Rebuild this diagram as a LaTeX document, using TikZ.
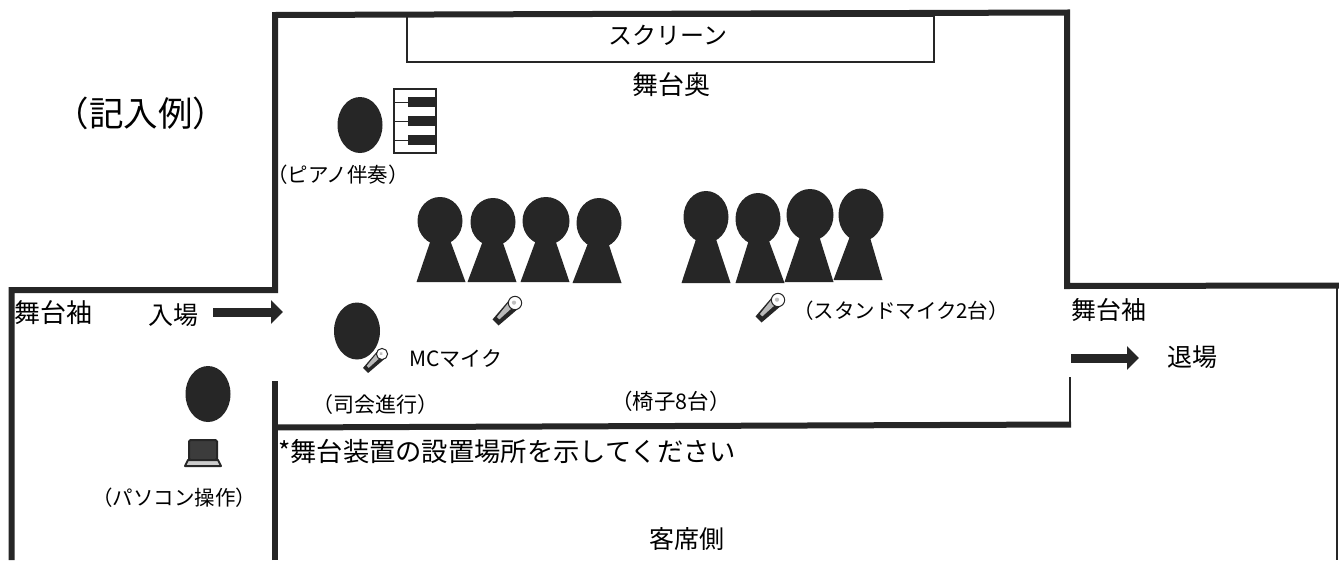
\documentclass[tikz,border=0pt]{standalone}
\usepackage{fontspec}
\setmainfont{Noto Sans CJK JP}
\usetikzlibrary{arrows.meta,shapes.geometric}
\definecolor{ink}{HTML}{262626}
\tikzset{
  x=1pt,y=-1pt,
  wall/.style={draw=ink,line width=6pt,line cap=butt,line join=miter},
  thinwall/.style={draw=ink,line width=2.5pt},
  headshape/.style={fill=ink,draw=none,ellipse,inner sep=0pt},
  lab/.style={font=\fontsize{#1}{#1}\selectfont,text=black,inner sep=0pt},
  arr/.style={draw=ink,line width=9pt,-{Triangle[length=12pt,width=23pt]}},
}
\newcommand{\mymic}[2]{%
  \begin{scope}[shift={#1},rotate=-45,scale=#2]
    \fill[ink] (-6.5,3) -- (6.5,3) -- (4.5,29) -- (-4.5,29) -- cycle;
    \fill[gray!55] (-5,5) -- (1.5,5) -- (0.5,24) -- (-3,24) -- cycle;
    \filldraw[draw=ink,fill=white,line width=1pt] (0,0) ellipse (7 and 7);
    \fill[gray!50] (-1,0.5) circle (2.2);
  \end{scope}}
% head cx, cy, width, height, base cx, base y
\newcommand{\myperson}[6]{%
  \fill[ink] (#1,#2-8) -- (#5+24.5,#6) -- (#5-24.5,#6) -- cycle;
  \node[headshape,minimum width=#3pt,minimum height=#4pt] at (#1,#2) {};}
\begin{document}
\begin{tikzpicture}
\useasboundingbox (0,0) rectangle (1339,560);
\fill[white] (0,0) rectangle (1339,560);
% walls
\draw[wall] (11.5,560) -- (11.5,290) -- (275,290) -- (275,15) -- (1067,12.5) -- (1067,286) -- (1339,285.5);
\draw[wall] (275,560) -- (275,381);
\draw[wall] (275,427.5) -- (1071,424.5);
\draw[thinwall] (1070,377) -- (1070,426);
\draw[draw=ink,line width=1.5pt] (1337,286) -- (1337,560);
% screen
\node[draw=ink,line width=1.5pt,minimum width=527pt,minimum height=46pt,inner sep=0pt,anchor=north west] (screen) at (406,15) {};
\node[lab=24] at (668,35) {スクリーン};
\node[lab=26] at (671,85) {舞台奥};
\node[lab=34.5] at (141,113) {（記入例）};
% pianist
\node[headshape,minimum width=45pt,minimum height=56pt] (pianist) at (360,125) {};
\draw[ink,line width=1.5pt,fill=white] (394,89) rectangle (436,153);
\draw[ink,line width=2pt] (393,89) -- (437,89) (393,153) -- (437,153);
\foreach \y in {102,121,140} {
  \fill[ink] (408,\y-5) rectangle (436,\y+5);
  \draw[ink,line width=1pt] (394,\y) -- (408,\y);
}
\node[lab=20.5] at (338,175) {（ピアノ伴奏）};
% choir
\myperson{440}{221}{45}{48}{441}{282}
\myperson{493}{222}{45}{48}{492}{282}
\myperson{546}{221}{47}{48}{545}{282}
\myperson{599}{223}{45}{50}{597}{283}
\myperson{706}{217}{45}{52}{706}{283}
\myperson{758}{219}{45}{52}{760}{283}
\myperson{810}{215}{47}{52}{809}{282}
\myperson{861}{215}{45}{53}{858}{280}
% entry
\node[lab=26] at (53,313) {舞台袖};
\node[lab=25] at (173,315) {入場};
\draw[arr] (213,312) -- (283,312);
% MC
\node[headshape,minimum width=46pt,minimum height=57pt] (mc) at (357,331) {};
\mymic{(382,354)}{0.8}
\node[lab=21] at (456,358) {MCマイク};
\node[lab=21] at (375,405) {（司会進行）};
\mymic{(515,303)}{0.95}
\mymic{(778,300)}{0.95}
\node[lab=20.5] at (901,311) {（スタンドマイク2台）};
\node[lab=21.5] at (671,401) {（椅子8台）};
% exit
\node[lab=25] at (1109,310) {舞台袖};
\draw[arr] (1071,358) -- (1139,358);
\node[lab=25] at (1192,357) {退場};
% operator
\node[headshape,minimum width=45pt,minimum height=56pt] (op) at (208,394) {};
\draw[ink,line width=2pt,fill=ink!90,rounded corners=1.5pt] (189,440) rectangle (217,460);
\filldraw[draw=ink,fill=gray!40,line width=2pt,line join=round] (188,460) -- (218,460) -- (221,466) -- (185,466) -- cycle;
\node[lab=20.5] at (174,498) {（パソコン操作）};
% notes
\node[lab=26.3,anchor=west] at (278,451) {*舞台装置の設置場所を示してください};
\node[lab=25] at (687,539) {客席側};
\end{tikzpicture}
\end{document}
